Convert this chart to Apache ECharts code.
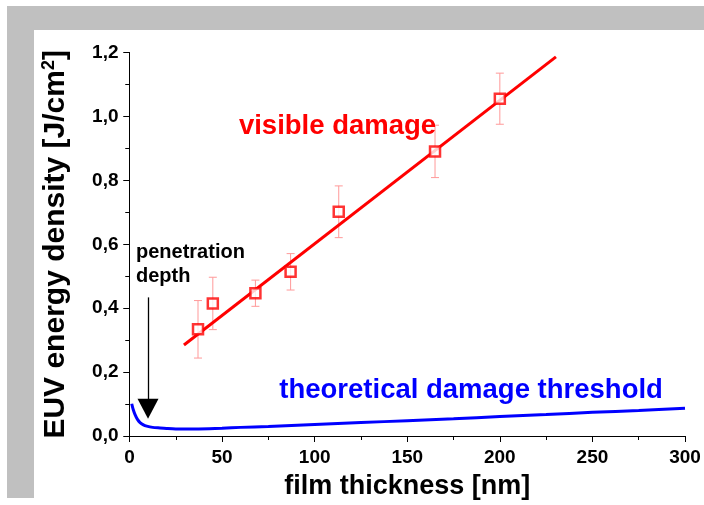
<!DOCTYPE html>
<html>
<head>
<meta charset="utf-8">
<script src="https://cdn.jsdelivr.net/npm/echarts@6/dist/echarts.min.js"></script>
<style>
html,body{margin:0;padding:0;background:#fff;}
#c{width:704px;height:505px;}
</style>
</head>
<body>
<div id="c"></div>
<script>
// Data
var thickness = [37, 45, 68, 87, 113, 165, 200];
var damage = [0.334, 0.415, 0.447, 0.514, 0.702, 0.891, 1.056];
var damageErr = [0.090, 0.082, 0.041, 0.057, 0.081, 0.082, 0.080];
var fitX = [29.4, 230.3];
var fitY = [0.285, 1.187];
var thrX = [1.2, 2, 3, 4.3, 5.7, 7.5, 9.3, 12.5, 16.5, 20, 25, 30, 36, 43, 50, 60, 75, 100, 125, 150, 175, 200, 225, 250, 275, 300];
var thrY = [0.101, 0.083, 0.067, 0.052, 0.042, 0.035, 0.031, 0.027, 0.025, 0.0235, 0.022, 0.0218, 0.022, 0.0225, 0.024, 0.027, 0.030, 0.036, 0.042, 0.048, 0.054, 0.061, 0.067, 0.074, 0.080, 0.087];
var xTicks = [0, 50, 100, 150, 200, 250, 300];
var yTicks = [0, 0.2, 0.4, 0.6, 0.8, 1.0, 1.2];
var arrowX = [10, 10];
var arrowY = [0.434, 0.085];

var FONT = '"Liberation Sans", Arial, sans-serif';
var chart = echarts.init(document.getElementById('c'), null, {renderer: 'canvas'});

function pairs(xs, ys) { return xs.map(function (x, i) { return [x, ys[i]]; }); }

var errData = thickness.map(function (x, i) { return [x, damage[i] - damageErr[i], damage[i] + damageErr[i]]; });

var axisCommon = {
  min: 0,
  axisLine: {show: true, lineStyle: {color: '#000', width: 1}},
  splitLine: {show: false},
  minorSplitLine: {show: false}
};

var option = {
  animation: false,
  backgroundColor: '#fff',
  grid: {left: 129.5, right: 19, top: 52.7, bottom: 63.3, containLabel: false},
  xAxis: [
    Object.assign({}, axisCommon, {
      type: 'value', position: 'bottom', max: 300, interval: 50,
      axisTick: {show: true, inside: false, length: 6, lineStyle: {color: '#000'}},
      minorTick: {show: true, splitNumber: 2, length: 4, lineStyle: {color: '#000'}},
      axisLabel: {color: '#000', fontFamily: FONT, fontWeight: 'bold', fontSize: 19, margin: 12,
        formatter: function (v) { return xTicks.indexOf(v) >= 0 ? String(v) : ''; }},
      name: 'film thickness [nm]', nameLocation: 'middle', nameGap: 37,
      nameTextStyle: {color: '#000', fontFamily: FONT, fontWeight: 'bold', fontSize: 27}
    }),
    Object.assign({}, axisCommon, {
      type: 'value', position: 'top', max: 300, interval: 50,
      axisTick: {show: true, inside: true, length: 6, lineStyle: {color: '#000'}},
      minorTick: {show: true, splitNumber: 2, length: 4, lineStyle: {color: '#000'}},
      axisLabel: {show: false}
    })
  ],
  yAxis: [
    Object.assign({}, axisCommon, {
      type: 'value', position: 'left', max: 1.2, interval: 0.2,
      axisTick: {show: true, inside: false, length: 6, lineStyle: {color: '#000'}},
      minorTick: {show: true, splitNumber: 2, length: 4, lineStyle: {color: '#000'}},
      axisLabel: {color: '#000', fontFamily: FONT, fontWeight: 'bold', fontSize: 19, margin: 11,
        formatter: function (v) { return v.toFixed(1).replace('.', ','); }},
      name: 'EUV energy density [J/cm{sup|2}]', nameLocation: 'middle', nameGap: 58, nameRotate: 90,
      nameTextStyle: {color: '#000', fontFamily: FONT, fontWeight: 'bold', fontSize: 30,
        rich: {sup: {color: '#000', fontFamily: FONT, fontWeight: 'bold', fontSize: 18, verticalAlign: 'top', padding: [0, 0, 13, 0]}}}
    }),
    Object.assign({}, axisCommon, {
      type: 'value', position: 'right', max: 1.2, interval: 0.2,
      axisTick: {show: true, inside: true, length: 6, lineStyle: {color: '#000'}},
      minorTick: {show: true, splitNumber: 2, length: 4, lineStyle: {color: '#000'}},
      axisLabel: {show: false}
    })
  ],
  series: [
    {
      type: 'line', name: 'threshold', data: pairs(thrX, thrY), smooth: 0.3,
      showSymbol: false, symbol: 'none', lineStyle: {color: '#0000ff', width: 3}, z: 3
    },
    {
      type: 'line', name: 'fit', data: pairs(fitX, fitY),
      showSymbol: false, symbol: 'none', lineStyle: {color: '#ff0000', width: 3}, z: 3
    },
    {
      type: 'custom', name: 'err', data: errData, z: 2,
      renderItem: function (params, api) {
        var x = api.value(0);
        var pLo = api.coord([x, api.value(1)]);
        var pHi = api.coord([x, api.value(2)]);
        var cap = 4;
        var st = {stroke: '#f99', lineWidth: 1};
        return {
          type: 'group', children: [
            {type: 'line', shape: {x1: pLo[0], y1: pLo[1], x2: pHi[0], y2: pHi[1]}, style: st},
            {type: 'line', shape: {x1: pLo[0] - cap, y1: pLo[1], x2: pLo[0] + cap, y2: pLo[1]}, style: st},
            {type: 'line', shape: {x1: pHi[0] - cap, y1: pHi[1], x2: pHi[0] + cap, y2: pHi[1]}, style: st}
          ]
        };
      }
    },
    {
      type: 'scatter', name: 'visible', data: pairs(thickness, damage), symbol: 'rect', symbolSize: 10,
      itemStyle: {color: '#fff', borderColor: '#ff0000', borderWidth: 2.5}, z: 5
    },
    {
      type: 'line', name: 'arrow', data: [], symbol: 'none',
      markLine: {
        silent: true, animation: false,
        symbol: ['none', 'triangle'], symbolSize: [21, 20],
        lineStyle: {color: '#000', width: 1.3, type: 'solid'},
        label: {show: false},
        data: [[{coord: [arrowX[0], arrowY[0]]}, {coord: [arrowX[1], arrowY[1]]}]],
        itemStyle: {color: '#000'}
      }
    }
  ]
};
chart.setOption(option);

var labels = [
  {text: 'visible damage', at: [59.1, 0.970], color: '#ff0000', size: 27.5},
  {text: 'theoretical damage threshold', at: [80.9, 0.1425], color: '#0000ff', size: 27.5},
  {text: 'penetration', at: [3.5, 0.574], color: '#000', size: 20},
  {text: 'depth', at: [3.5, 0.500], color: '#000', size: 20}
];
var g = [
  {type: 'rect', shape: {x: 7, y: 6, width: 697, height: 24}, style: {fill: '#c0c0c0'}, z: -10, silent: true},
  {type: 'rect', shape: {x: 7, y: 6, width: 27, height: 492}, style: {fill: '#c0c0c0'}, z: -10, silent: true}
];
labels.forEach(function (l) {
  var p = chart.convertToPixel({gridIndex: 0}, l.at);
  g.push({type: 'text', x: p[0], y: p[1], z: 50, silent: true,
    style: {text: l.text, fill: l.color, font: 'bold ' + l.size + 'px ' + FONT, align: 'left', verticalAlign: 'middle'}});
});
chart.setOption({graphic: g});
</script>
</body>
</html>
